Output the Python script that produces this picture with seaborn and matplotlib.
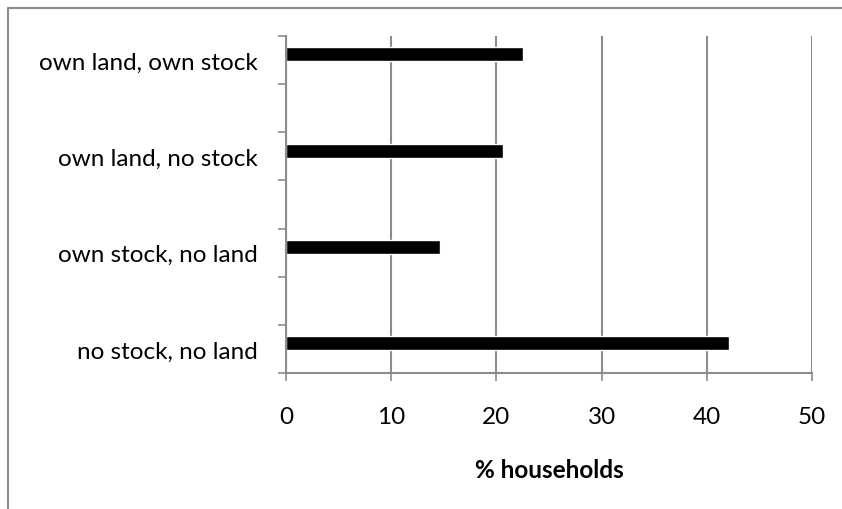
import matplotlib
matplotlib.use('Agg')
import matplotlib.pyplot as plt
import seaborn as sns
import pandas as pd
import numpy as np
from matplotlib.lines import Line2D

#Data (top to bottom)
categories = ['own land, own stock', 'own land, no stock', 'own stock, no land', 'no stock, no land']
pct_households = [22.5, 20.6, 14.6, 42.1]
x_ticks = [0, 10, 20, 30, 40, 50]

df = pd.DataFrame({'category': categories, 'pct': pct_households})

sns.set_style('white')
plt.rcParams['font.family'] = ['Lato', 'DejaVu Sans']
plt.rcParams['text.color'] = 'black'
plt.rcParams['xtick.labelcolor'] = 'black'
plt.rcParams['ytick.labelcolor'] = 'black'
plt.rcParams['axes.labelcolor'] = 'black'

fig = plt.figure(figsize=(8.42, 5.10), dpi=100)
ax = fig.add_axes([286/842, 1 - 374/510, (812 - 286)/842, (374 - 37)/510])

sns.barplot(data=df, y='category', x='pct', orient='h', color='black',
            width=0.146, saturation=1, ax=ax)

#Excel-like slot layout: 7 slots, categories every 2 slots
top_lim = -0.19
bot_lim = top_lim + 3.5
ax.set_ylim(bot_lim, top_lim)
ax.set_xlim(0, 50)

bounds = top_lim + 0.5*np.arange(8)
ax.set_yticks(bounds)
ax.set_yticklabels([])
ax.set_yticks(top_lim + 0.25 + np.arange(4), minor=True)
ax.set_yticklabels(categories, minor=True)
ax.tick_params(axis='y', which='major', length=6, width=1.2, color='#8c8c8c', direction='out', left=True)
ax.tick_params(axis='y', which='minor', length=0, pad=20, labelsize=17.5, labelcolor='black')

ax.set_xticks(x_ticks)
ax.tick_params(axis='x', length=6, width=1.2, color='#8c8c8c', direction='out', bottom=True, pad=18, labelsize=17.5, labelcolor='black')

ax.grid(axis='x', color='#8c8c8c', linewidth=1.5)
ax.set_axisbelow(True)
for side in ['top', 'right']:
    ax.spines[side].set_visible(False)
for side in ['left', 'bottom']:
    ax.spines[side].set_color('#8c8c8c')
    ax.spines[side].set_linewidth(1.5)

ax.set_ylabel('')
ax.set_xlabel('% households', fontsize=17.5, fontweight='bold', labelpad=22, color='black')

#chart area border (top and left edges visible)
fig.add_artist(Line2D([8/842, 1], [1 - 9/510, 1 - 9/510], color='#8c8c8c', linewidth=1.5, transform=fig.transFigure))
fig.add_artist(Line2D([8/842, 8/842], [0, 1 - 9/510], color='#8c8c8c', linewidth=1.5, transform=fig.transFigure))

fig.savefig('out.png', dpi=100)
